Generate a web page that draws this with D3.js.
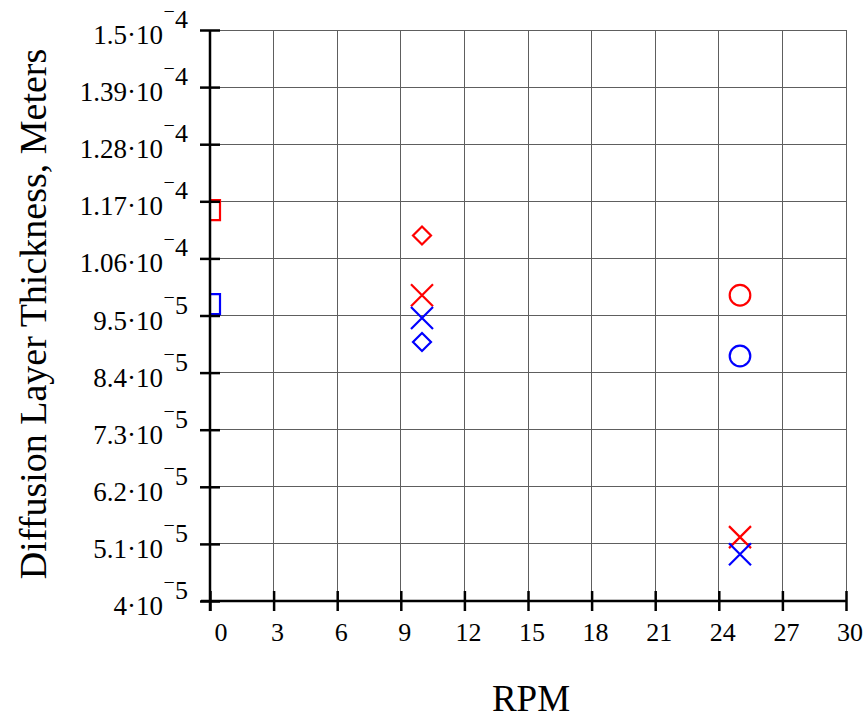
<!DOCTYPE html>
<html>
<head>
<meta charset="utf-8">
<script src="https://cdn.jsdelivr.net/npm/d3@7"></script>
<style>
  html, body { margin: 0; padding: 0; background: #fff; }
  svg { display: block; }
  text { font-family: "Liberation Serif", "Times New Roman", serif; fill: #000; }
</style>
</head>
<body>
<svg id="chart" width="868" height="718"></svg>
<script>
// Diffusion layer thickness (m) against rotation speed (RPM)
const xTicks = [0, 3, 6, 9, 12, 15, 18, 21, 24, 27, 30];
const yTicks = [4e-5, 5.1e-5, 6.2e-5, 7.3e-5, 8.4e-5, 9.5e-5, 1.06e-4, 1.17e-4, 1.28e-4, 1.39e-4, 1.5e-4];

// each series: colour, marker, rpm values, thickness values
const redSquareRpm = [0],   redSquareThk = [1.153e-4];
const blueSquareRpm = [0],  blueSquareThk = [9.72e-5];
const redDiamondRpm = [10], redDiamondThk = [1.104e-4];
const blueDiamondRpm = [10], blueDiamondThk = [8.99e-5];
const redCrossRpm = [10, 25],  redCrossThk = [9.89e-5, 5.23e-5];
const blueCrossRpm = [10, 25], blueCrossThk = [9.45e-5, 4.9e-5];
const redCircleRpm = [25],  redCircleThk = [9.89e-5];
const blueCircleRpm = [25], blueCircleThk = [8.72e-5];

const RED = "#ff0000", BLUE = "#0000ff";
const series = [
  { rpm: redSquareRpm,  thk: redSquareThk,  color: RED,  shape: "square" },
  { rpm: blueSquareRpm, thk: blueSquareThk, color: BLUE, shape: "square" },
  { rpm: redDiamondRpm, thk: redDiamondThk, color: RED,  shape: "diamond" },
  { rpm: blueDiamondRpm, thk: blueDiamondThk, color: BLUE, shape: "diamond" },
  { rpm: redCrossRpm,   thk: redCrossThk,   color: RED,  shape: "cross" },
  { rpm: blueCrossRpm,  thk: blueCrossThk,  color: BLUE, shape: "cross" },
  { rpm: redCircleRpm,  thk: redCircleThk,  color: RED,  shape: "circle" },
  { rpm: blueCircleRpm, thk: blueCircleThk, color: BLUE, shape: "circle" }
];

const svg = d3.select("#chart");
const x = d3.scaleLinear().domain([0, 30]).range([210, 846]);
const y = d3.scaleLinear().domain([4e-5, 1.5e-4]).range([601, 30]);
const [x0, x1] = x.range();
const [y0, y1] = y.range();

// grid
const grid = svg.append("g").attr("stroke", "#5e5e5e").attr("stroke-width", 1).attr("shape-rendering", "crispEdges");
grid.selectAll("line.v").data(xTicks.slice(1)).join("line")
  .attr("x1", d => x(d)).attr("x2", d => x(d)).attr("y1", y1).attr("y2", y0);
grid.selectAll("line.h").data(yTicks.slice(1)).join("line")
  .attr("x1", x0).attr("x2", x1).attr("y1", d => y(d)).attr("y2", d => y(d));

// markers, clipped to the plotting area
svg.append("clipPath").attr("id", "plot").append("rect")
  .attr("x", x0).attr("y", y1).attr("width", x1 - x0).attr("height", y0 - y1);
const marks = svg.append("g").attr("clip-path", "url(#plot)")
  .attr("fill", "none").attr("stroke-width", 2.2);

function shapePath(shape) {
  if (shape === "square") return "M-10,-10H10V10H-10Z";
  if (shape === "diamond") return "M0,-9L9,0L0,9L-9,0Z";
  if (shape === "cross") return "M-11,-11L11,11M-11,11L11,-11";
  return null;
}
series.forEach(s => {
  const pts = s.rpm.map((r, i) => [r, s.thk[i]]);
  if (s.shape === "circle") {
    marks.selectAll(null).data(pts).join("circle")
      .attr("cx", d => x(d[0])).attr("cy", d => y(d[1])).attr("r", 10.3)
      .attr("stroke", s.color);
  } else {
    marks.selectAll(null).data(pts).join("path")
      .attr("transform", d => `translate(${x(d[0])},${y(d[1])})`)
      .attr("d", shapePath(s.shape)).attr("stroke", s.color);
  }
});

// axes
const xAxis = d3.axisBottom(x).tickValues(xTicks).tickSize(10).tickFormat("");
const yAxis = d3.axisLeft(y).tickValues(yTicks).tickSize(10).tickFormat("");
const gx = svg.append("g").attr("transform", `translate(0,${y0})`).call(xAxis);
const gy = svg.append("g").attr("transform", `translate(${x0},0)`).call(yAxis);
[gx, gy].forEach(g => {
  g.select(".domain").remove();
  g.selectAll(".tick line").attr("stroke", "#000").attr("stroke-width", 2.5);
});
gx.selectAll(".tick line").attr("y1", -10);
gy.selectAll(".tick line").attr("x2", 10).attr("x1", -10);
svg.append("line").attr("x1", x0 - 9).attr("x2", x1 + 1).attr("y1", y0).attr("y2", y0)
  .attr("stroke", "#000").attr("stroke-width", 2.5);
svg.append("line").attr("x1", x0).attr("x2", x0).attr("y1", y1).attr("y2", y0 + 10)
  .attr("stroke", "#000").attr("stroke-width", 2.5);

// x tick labels
svg.append("g").selectAll("text").data(xTicks).join("text")
  .attr("x", d => x(d) + (d === 0 ? 11 : 4)).attr("y", y0 + 40)
  .attr("text-anchor", "middle").attr("font-size", 26)
  .text(d => d);

// y tick labels in mantissa·10^exponent form, raised minus above the exponent
const expOf = v => Math.floor(Math.log10(v) + 1e-9);
const mantOf = v => +(v / Math.pow(10, expOf(v))).toFixed(2);
const yl = svg.append("g").selectAll("text").data(yTicks).join("text")
  .attr("transform", d => `translate(0,${y(d)})`)
  .attr("font-size", 27);
yl.append("tspan").attr("x", 163).attr("y", 14).attr("text-anchor", "end")
  .text(d => mantOf(d) + "·10");
yl.append("tspan").attr("x", 163.5).attr("y", -12).attr("font-size", 20).text("−");
yl.append("tspan").attr("x", 175).attr("y", -2).attr("font-size", 26).text(d => -expOf(d));

// axis titles
svg.append("text").attr("x", (x0 + x1) / 2 + 3).attr("y", 711)
  .attr("text-anchor", "middle").attr("font-size", 37).text("RPM");
svg.append("text").attr("transform", "translate(46,314) rotate(-90)")
  .attr("text-anchor", "middle").attr("font-size", 38)
  .text("Diffusion Layer Thickness, Meters");
</script>
</body>
</html>
